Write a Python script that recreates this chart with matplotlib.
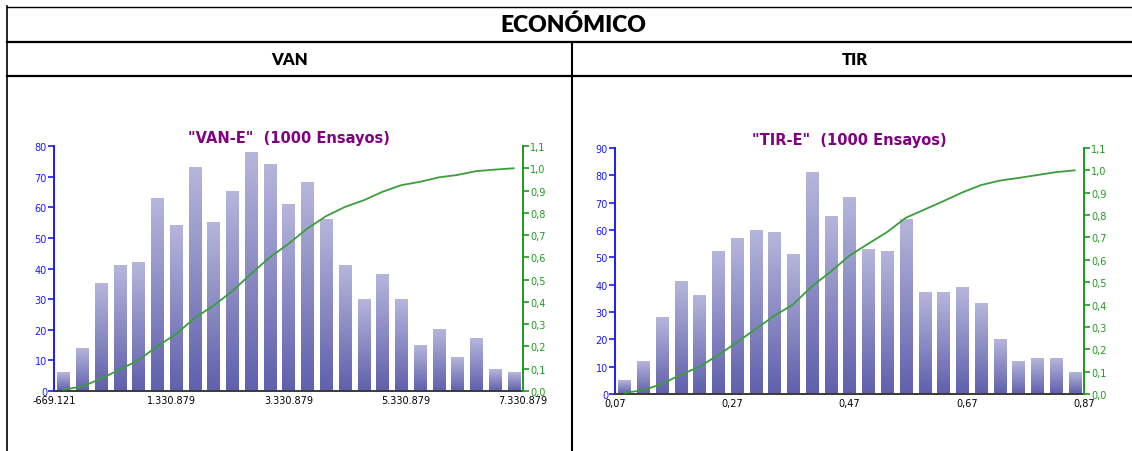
import numpy as np
import matplotlib.pyplot as plt
from matplotlib.colors import LinearSegmentedColormap
from matplotlib.ticker import FuncFormatter

W, H = 1132, 452

# VAN-E simulation: 1000 trials in 25 bins
van_min, van_max = -669121, 7330879
van_counts = [6, 14, 35, 41, 42, 63, 54, 73, 55, 65, 78, 74, 61,
              68, 56, 41, 30, 38, 30, 15, 20, 11, 17, 7, 6]
van_ticks = [-669121, 1330879, 3330879, 5330879, 7330879]

# TIR-E simulation: 1000 trials in 25 bins
tir_min, tir_max = 0.07, 0.87
tir_counts = [5, 12, 28, 41, 36, 52, 57, 60, 59, 51, 81, 65, 72,
              53, 52, 64, 37, 37, 39, 33, 20, 12, 13, 13, 8]
tir_ticks = [0.07, 0.27, 0.47, 0.67, 0.87]

BAR_CMAP = LinearSegmentedColormap.from_list('bars', ['#6060ad', '#b5b5db'])
BLUE = '#1a1aff'
GREEN = '#1e9a1e'
PURPLE = '#800080'


def px_axes(fig, x0, y0, x1, y1):
    return fig.add_axes([x0 / W, 1 - y1 / H, (x1 - x0) / W, (y1 - y0) / H])


def histogram(fig, box, title, counts, lo, hi, ymax, xticks, fmt):
    ax = px_axes(fig, *box)
    n = len(counts)
    step = (hi - lo) / n
    centers = lo + step * (np.arange(n) + 0.5)
    grad = np.linspace(0, 1, 64).reshape(-1, 1)
    bw = step * 0.64
    for c, v in zip(centers, counts):
        ax.imshow(grad, extent=[c - bw / 2, c + bw / 2, 0, v], origin='lower',
                  cmap=BAR_CMAP, aspect='auto', interpolation='bilinear', zorder=2)
    ax.set_xlim(lo, hi)
    ax.set_ylim(0, ymax)
    ax.set_yticks(np.arange(0, ymax + 1, 10))
    ax.set_xticks(xticks)
    ax.xaxis.set_major_formatter(FuncFormatter(lambda v, p: fmt(v)))
    ax.tick_params(axis='x', length=0, pad=3, labelsize=7, colors='black')
    ax.tick_params(axis='y', length=4, width=1.2, pad=1, labelsize=7,
                   colors=BLUE)
    for s in ['top', 'right']:
        ax.spines[s].set_visible(False)
    ax.spines['left'].set_color(BLUE)
    ax.spines['left'].set_linewidth(1.4)
    ax.spines['bottom'].set_color('#3a3a3a')
    ax.spines['bottom'].set_linewidth(1.4)
    ax.spines['bottom'].set_zorder(5)
    ax.patch.set_alpha(0)

    # cumulative frequency on the right axis
    ax2 = ax.twinx()
    cum = np.cumsum(counts) / np.sum(counts)
    ax2.plot(centers, cum, color='#3a9e3a', lw=1.3, zorder=3)
    ax2.set_ylim(0, 1.1)
    ax2.set_yticks(np.arange(0, 1.15, 0.1))
    ax2.yaxis.set_major_formatter(
        FuncFormatter(lambda v, p: f'{v:.1f}'.replace('.', ',')))
    ax2.tick_params(axis='y', length=4, width=1.2, pad=1, labelsize=7,
                    colors=GREEN)
    for s in ['top', 'left', 'bottom']:
        ax2.spines[s].set_visible(False)
    ax2.spines['right'].set_color(GREEN)
    ax2.spines['right'].set_linewidth(1.4)

    ax.set_title(title, color=PURPLE, fontsize=10.5, fontweight='bold', pad=3)
    return ax


fig = plt.figure(figsize=(W / 100, H / 100), dpi=100)

# table frame in pixel coordinates
bg = fig.add_axes([0, 0, 1, 1])
bg.set_xlim(0, W)
bg.set_ylim(H, 0)
bg.axis('off')
bg.plot([7, W], [7.5, 7.5], color='black', lw=1.0)
bg.plot([7, W], [43, 43], color='black', lw=1.6)
bg.plot([7, W], [77, 77], color='black', lw=1.6)
bg.plot([7, 7], [7, H], color='black', lw=1.2)
bg.plot([572, 572], [43, H], color='black', lw=1.5)
bg.text(573, 25, 'ECONÓMICO', ha='center', va='center', fontsize=16.5,
        fontweight='heavy', family='Lato')
bg.text(290, 60, 'VAN', ha='center', va='center', fontsize=12,
        fontweight='heavy', family='Lato')
bg.text(855, 60, 'TIR', ha='center', va='center', fontsize=12,
        fontweight='heavy', family='Lato')

histogram(fig, (54, 147, 523, 392), '"VAN-E"  (1000 Ensayos)', van_counts,
          van_min, van_max, 80, van_ticks,
          lambda v: f'{v:,.0f}'.replace(',', '.'))
histogram(fig, (615, 149, 1084, 395), '"TIR-E"  (1000 Ensayos)', tir_counts,
          tir_min, tir_max, 90, tir_ticks,
          lambda v: f'{v:.2f}'.replace('.', ','))

fig.savefig('out.png', dpi=100)
